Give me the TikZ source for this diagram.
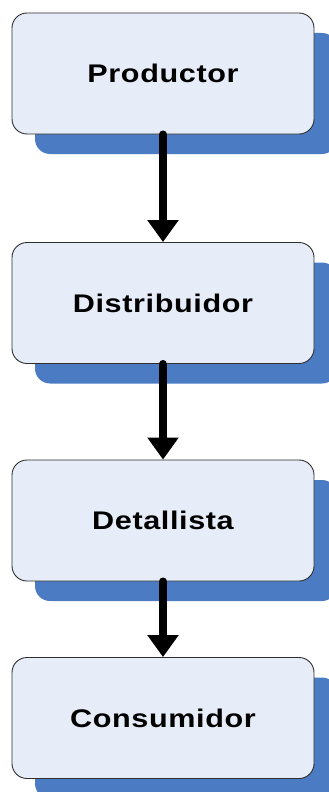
\documentclass[tikz,border=0pt]{standalone}
\usepackage{fontspec}
\setmainfont{Liberation Sans}
\usetikzlibrary{arrows.meta,shadows}
\definecolor{boxfill}{HTML}{E7EDF8}
\definecolor{boxshade}{HTML}{4A7BC3}
\definecolor{boxline}{HTML}{2E2E2E}
% labels are set a little wide
\newcommand\widelabel[1]{\scalebox{1.2}[1]{#1}}
\begin{document}
\begin{tikzpicture}[x=1pt,y=-1pt,
  stage/.style={draw=boxline, line width=0.9pt, fill=boxfill,
    rounded corners=15pt, minimum width=302pt, minimum height=121pt,
    inner sep=0pt,
    font=\fontsize{25.5}{30}\selectfont\bfseries\addfontfeature{LetterSpace=2},
    drop shadow={shadow xshift=23pt, shadow yshift=-20pt,
      fill=boxshade, opacity=1}},
  flow/.style={line width=8pt, line cap=round,
    -{Triangle[width=30pt,length=22pt]}}]
  \useasboundingbox (0,0) rectangle (329,792);
  \node[stage] (p)  at (163,73.5)  {\widelabel{Productor}};
  \node[stage] (d)  at (163,303)   {\widelabel{Distribuidor}};
  \node[stage] (r)  at (163,520.5) {\widelabel{Detallista}};
  \node[stage] (c)  at (163,718)   {\widelabel{Consumidor}};
  \draw[flow] (p.south) -- (d.north);
  \draw[flow] (d.south) -- (r.north);
  \draw[flow] (r.south) -- (c.north);
\end{tikzpicture}
\end{document}
